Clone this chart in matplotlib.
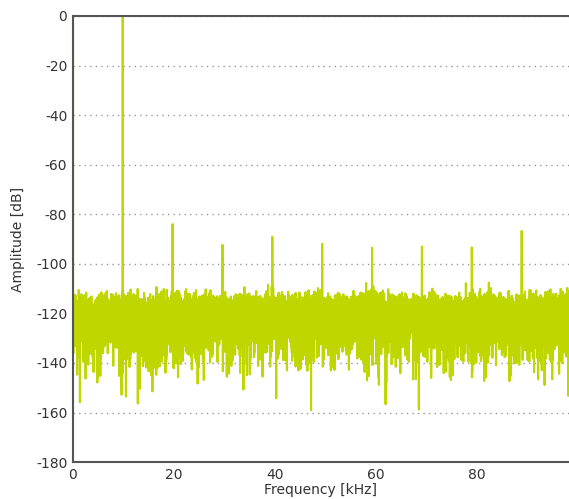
import numpy as np
import matplotlib
matplotlib.use("Agg")
import matplotlib.pyplot as plt

# measurement setup
fs = 196400.0          # sample rate [Hz]
n_fft = 32768
f0 = 9870.3            # fundamental [Hz]
adc_lsb = 2.3e-4       # quantizer step (full scale +-1)

# harmonic levels [dB re fundamental]
harmonic_order = [1, 2, 3, 4, 5, 6, 7, 8, 9]
harmonic_db = [0.0, -83.5, -91.8, -88.8, -92.3, -93.8, -92.3, -92.3, -86.8]
harmonic_phase = [0.0, 0.7, 2.1, 4.0, 1.3, 5.2, 3.3, 0.4, 2.8]
dc_level = 0.5

y_ticks = [0, -20, -40, -60, -80, -100, -120, -140, -160, -180]
x_ticks = [0, 20, 40, 60, 80]

# build the test tone, quantize it like an ADC, take the spectrum
t = np.arange(n_fft) / fs
sig = np.full(n_fft, dc_level)
for h, lvl, ph in zip(harmonic_order, harmonic_db, harmonic_phase):
    sig += 0.98 * 10 ** (lvl / 20) * np.sin(2 * np.pi * h * f0 * t + ph)
sig = np.round(sig / adc_lsb) * adc_lsb

win = np.kaiser(n_fft, 20)
spec = np.abs(np.fft.rfft(sig * win))
spec_db = 20 * np.log10(spec / spec.max() + 1e-12)
spec_db[0:8] = 0.0
freq = np.fft.rfftfreq(n_fft, 1 / fs) / 1000.0

fig = plt.figure(figsize=(5.69, 4.99), dpi=100)
ax = fig.add_axes([0.128, 0.074, 0.872, 0.894])
ax.plot(freq, spec_db, color="#bfd600", lw=1.5)

ax.set_xlim(0, 98.2)
ax.set_ylim(-180, 0)
ax.set_xticks(x_ticks)
ax.set_yticks(y_ticks)
ax.set_yticklabels([str(v) for v in y_ticks])
ax.yaxis.grid(True, linestyle=(0, (1, 3)), color="#999999", lw=1)
ax.set_axisbelow(True)
ax.tick_params(length=0, labelsize=10, labelcolor="#333333", pad=4)
for s in ["top", "bottom", "left"]:
    ax.spines[s].set_color("#555555")
    ax.spines[s].set_linewidth(1.5)
ax.spines["right"].set_visible(False)

ax.set_xlabel("Frequency [kHz]", fontsize=10, color="#333333", labelpad=1)
ax.set_ylabel("Amplitude [dB]", fontsize=10, color="#333333", labelpad=8)

fig.savefig("out.png", dpi=100)
